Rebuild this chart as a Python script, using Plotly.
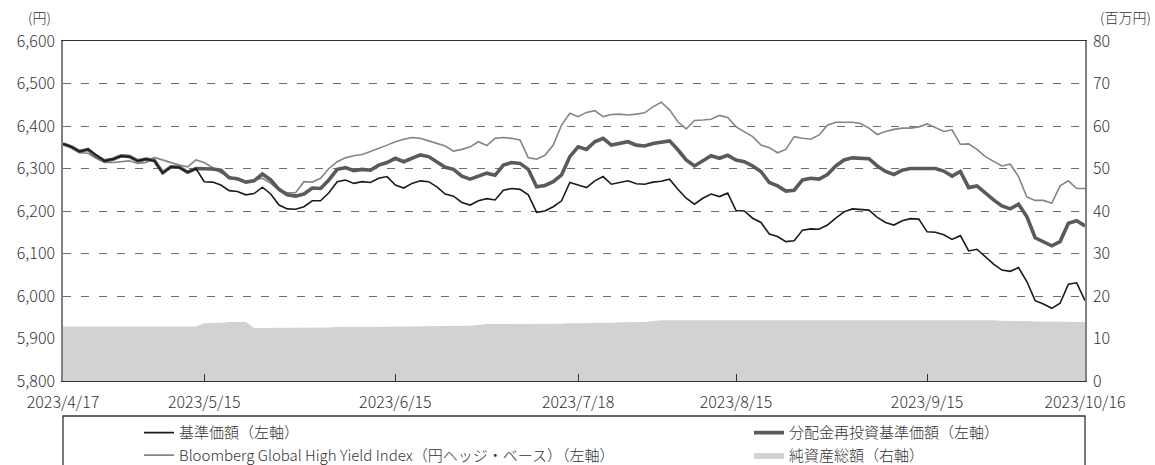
import pandas as pd
import plotly.graph_objects as go

# ---- categories (Japanese business days) ----
holidays = ["2023-05-03", "2023-05-04", "2023-05-05", "2023-07-17",
            "2023-08-11", "2023-09-18", "2023-10-09"]
days = pd.bdate_range("2023-04-17", "2023-10-16", freq="C", holidays=holidays)
dates = [f"{d.year}/{d.month}/{d.day}" for d in days]

tick_labels = ["2023/4/17", "2023/5/15", "2023/6/15", "2023/7/18",
               "2023/8/15", "2023/9/15", "2023/10/16"]

# ---- series values ----
nav = [6358, 6351, 6340, 6345, 6332, 6318, 6322, 6329, 6328, 6318,
       6322, 6318, 6289, 6304, 6302, 6291, 6300, 6269, 6268, 6261,
       6248, 6246, 6238, 6241, 6256, 6240, 6214, 6205, 6204, 6210,
       6224, 6224, 6243, 6269, 6273, 6265, 6269, 6267, 6277, 6281,
       6261, 6254, 6265, 6271, 6269, 6257, 6240, 6235, 6220, 6214,
       6224, 6229, 6226, 6249, 6253, 6251, 6238, 6197, 6200, 6210,
       6224, 6267, 6261, 6255, 6271, 6281, 6263, 6267, 6271, 6264,
       6263, 6268, 6270, 6275, 6251, 6230, 6216, 6230, 6240, 6234,
       6242, 6201, 6200, 6183, 6173, 6146, 6140, 6128, 6130, 6155,
       6158, 6157, 6167, 6183, 6198, 6205, 6204, 6202, 6185, 6173,
       6167, 6177, 6182, 6181, 6151, 6150, 6144, 6133, 6142, 6106,
       6110, 6093, 6075, 6061, 6058, 6067, 6034, 5989, 5981, 5971,
       5983, 6028, 6031, 5989]

nav_reinvest = [6358, 6351, 6340, 6345, 6329, 6318, 6322, 6330, 6328, 6318,
                6322, 6319, 6290, 6304, 6303, 6291, 6300, 6300, 6299, 6296,
                6278, 6276, 6268, 6271, 6287, 6273, 6251, 6238, 6235, 6240,
                6254, 6253, 6273, 6298, 6302, 6295, 6298, 6296, 6308, 6314,
                6324, 6316, 6324, 6332, 6328, 6316, 6303, 6298, 6282, 6275,
                6282, 6289, 6284, 6308, 6314, 6312, 6298, 6257, 6260, 6269,
                6285, 6328, 6351, 6345, 6363, 6371, 6355, 6359, 6363, 6355,
                6353, 6359, 6361, 6365, 6344, 6320, 6306, 6318, 6330, 6324,
                6331, 6320, 6316, 6306, 6293, 6267, 6259, 6247, 6249, 6273,
                6277, 6275, 6286, 6306, 6320, 6325, 6324, 6323, 6306, 6293,
                6286, 6296, 6300, 6300, 6299, 6300, 6294, 6282, 6293, 6255,
                6259, 6242, 6226, 6212, 6205, 6216, 6187, 6137, 6128, 6118,
                6128, 6171, 6177, 6165]

bloomberg = [6358, 6350, 6337, 6336, 6324, 6314, 6314, 6316, 6318, 6312,
             6314, 6326, 6320, 6314, 6308, 6304, 6320, 6314, 6302, 6290,
             6281, 6273, 6269, 6273, 6277, 6265, 6249, 6243, 6243, 6269,
             6268, 6277, 6300, 6316, 6325, 6330, 6333, 6340, 6347, 6355,
             6363, 6369, 6373, 6371, 6365, 6359, 6353, 6341, 6345, 6351,
             6363, 6354, 6371, 6373, 6371, 6367, 6325, 6322, 6331, 6355,
             6402, 6430, 6422, 6432, 6436, 6422, 6427, 6428, 6426, 6428,
             6431, 6445, 6456, 6438, 6410, 6393, 6413, 6414, 6416, 6425,
             6420, 6398, 6386, 6375, 6355, 6349, 6337, 6345, 6375, 6371,
             6369, 6379, 6402, 6409, 6409, 6409, 6406, 6395, 6380, 6387,
             6392, 6395, 6395, 6398, 6405, 6396, 6387, 6391, 6357, 6358,
             6345, 6328, 6316, 6306, 6310, 6281, 6233, 6225, 6225, 6218,
             6259, 6271, 6253, 6253]

net_assets = [12.8, 12.8, 12.8, 12.8, 12.8, 12.8, 12.8, 12.8, 12.8, 12.8,
              12.8, 12.8, 12.8, 12.8, 12.8, 12.8, 12.8, 13.6, 13.6, 13.7,
              13.9, 13.9, 13.9, 12.5, 12.5, 12.5, 12.5, 12.5, 12.6, 12.6,
              12.6, 12.6, 12.6, 12.7, 12.7, 12.7, 12.7, 12.7, 12.8, 12.8,
              12.8, 12.8, 12.8, 12.9, 12.9, 12.9, 12.9, 12.9, 13.0, 13.0,
              13.2, 13.4, 13.4, 13.4, 13.4, 13.5, 13.5, 13.5, 13.5, 13.5,
              13.5, 13.6, 13.6, 13.6, 13.7, 13.7, 13.7, 13.8, 13.8, 13.8,
              13.9, 14.1, 14.3, 14.3, 14.3, 14.3, 14.3, 14.3, 14.3, 14.4,
              14.4, 14.4, 14.4, 14.4, 14.4, 14.4, 14.4, 14.4, 14.4, 14.4,
              14.4, 14.4, 14.4, 14.4, 14.4, 14.4, 14.4, 14.4, 14.4, 14.4,
              14.4, 14.4, 14.4, 14.4, 14.4, 14.4, 14.4, 14.3, 14.3, 14.3,
              14.3, 14.3, 14.3, 14.2, 14.2, 14.1, 14.1, 14.0, 14.0, 14.0,
              13.9, 13.9, 13.9, 13.9]

FONT = "Noto Sans CJK JP"
TXT = "#333333"

fig = go.Figure()
fig.add_trace(go.Scatter(x=dates, y=net_assets, name="純資産総額（右軸）", yaxis="y2",
                         mode="lines", fill="tozeroy", fillcolor="#d1d2d4",
                         line=dict(width=0, color="#d1d2d4"),
                         legend="legend2", legendrank=2, hoverinfo="skip"))
fig.add_trace(go.Scatter(x=dates, y=bloomberg,
                         name="Bloomberg Global High Yield Index（円ヘッジ・ベース）（左軸）",
                         mode="lines", line=dict(color="#858585", width=1.6),
                         legend="legend", legendrank=2))
fig.add_trace(go.Scatter(x=dates, y=nav_reinvest, name="分配金再投資基準価額（左軸）",
                         mode="lines", line=dict(color="#5a5a5a", width=3.6),
                         legend="legend2", legendrank=1))
fig.add_trace(go.Scatter(x=dates, y=nav, name="基準価額（左軸）",
                         mode="lines", line=dict(color="#1a1a1a", width=1.6),
                         legend="legend", legendrank=1))

fig.update_layout(
    width=1155, height=465,
    margin=dict(l=63, r=70, t=41, b=84, autoexpand=False),
    paper_bgcolor="white", plot_bgcolor="white",
    font=dict(family=FONT, size=16, color=TXT),
    xaxis=dict(type="category", range=[0, len(dates) - 1],
               tickmode="array", tickvals=tick_labels, ticktext=tick_labels,
               ticks="inside", ticklen=7, tickcolor="#333333", tickwidth=1,
               showgrid=False, showline=True, linecolor="#333333", linewidth=1.3,
               mirror=True, tickangle=0, ticklabelstandoff=7, automargin=False,
               tickfont=dict(family=FONT, size=16, color=TXT, weight=300)),
    yaxis=dict(range=[5800, 6600], dtick=100, tickformat=",",
               showgrid=True, gridcolor="#6e6e6e", gridwidth=1.2, griddash="8px,10px",
               showline=True, linecolor="#808080", linewidth=1.5, automargin=False,
               ticks="", ticklabelstandoff=3, zeroline=False,
               tickfont=dict(family=FONT, size=16, color=TXT, weight=300)),
    yaxis2=dict(range=[0, 80], dtick=10, overlaying="y", side="right",
                showgrid=False, showline=True, linecolor="#808080", linewidth=1.5,
                ticks="", ticklabelstandoff=3, zeroline=False, automargin=False,
                tickfont=dict(family=FONT, size=16, color=TXT, weight=300)),
    legend=dict(x=(139 - 63) / 1022, y=-0.104, xanchor="left", yanchor="top",
                orientation="v", bgcolor="rgba(0,0,0,0)", tracegroupgap=0,
                font=dict(family=FONT, size=15, color=TXT, weight=300)),
    legend2=dict(x=(749 - 63) / 1022, y=-0.104, xanchor="left", yanchor="top",
                 orientation="v", bgcolor="rgba(0,0,0,0)", tracegroupgap=0,
                 font=dict(family=FONT, size=15, color=TXT, weight=300)),
    showlegend=True,
)

# legend frame
fig.add_shape(type="rect", xref="paper", yref="paper",
              x0=0, x1=1, y0=(381 - 480) / 340, y1=(381 - 416) / 340,
              line=dict(color="#333333", width=1.3), fillcolor="rgba(0,0,0,0)",
              layer="above")

# axis unit labels
fig.add_annotation(text="(円)", xref="paper", yref="paper",
                   x=(53 - 63) / 1022, y=(381 - 17) / 340, showarrow=False,
                   xanchor="right", yanchor="middle",
                   font=dict(size=14, color=TXT, weight=300))
fig.add_annotation(text="(百万円)", xref="paper", yref="paper",
                   x=(1153 - 63) / 1022, y=(381 - 17) / 340, showarrow=False,
                   xanchor="right", yanchor="middle",
                   font=dict(size=14, color=TXT, weight=300))

fig.write_html("out.html", config={"displayModeBar": False},
               post_script="document.body.style.margin='0';document.body.style.overflow='hidden';")
